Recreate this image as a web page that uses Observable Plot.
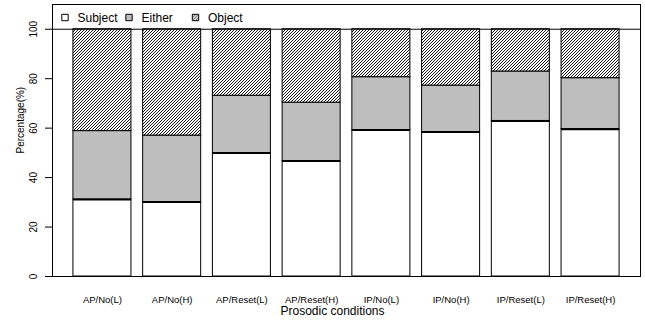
<!DOCTYPE html>
<html>
<head>
<meta charset="utf-8">
<script src="https://cdn.jsdelivr.net/npm/d3@7"></script>
<script src="https://cdn.jsdelivr.net/npm/@observablehq/plot@0.6"></script>
<style>
  html, body { margin: 0; padding: 0; background: #fff; }
  #chart svg { display: block; }
</style>
</head>
<body>
<div id="chart"></div>
<script>
const categories = ["AP/No(L)", "AP/No(H)", "AP/Reset(L)", "AP/Reset(H)", "IP/No(L)", "IP/No(H)", "IP/Reset(L)", "IP/Reset(H)"];
const seriesNames = ["Subject", "Either", "Object"];
const subject = [31.1, 30.1, 49.9, 46.7, 59.2, 58.4, 62.9, 59.6];
const either  = [27.7, 26.9, 23.2, 23.6, 21.4, 18.8, 20.0, 20.6];
const object  = [41.2, 43.0, 26.9, 29.7, 19.4, 22.8, 17.1, 19.8];
const yTicks = [0, 20, 40, 60, 80, 100];
const xTitle = "Prosodic conditions";
const yTitle = "Percentage(%)";

const seriesValues = [subject, either, object];
const rows = [];
categories.forEach((c, i) => {
  seriesNames.forEach((s, j) => rows.push({cond: c, series: s, value: seriesValues[j][i]}));
});
const subjectRows = categories.map((c, i) => ({cond: c, value: subject[i]}));

const fills = ["white", "#bebebe", "url(#hatch)"];
const legendDx = [12.5, 76.5, 143];
const font = "Liberation Sans, Arial, Helvetica, sans-serif";

const legendMarks = seriesNames.flatMap((s, j) => [
  Plot.dot([s], {frameAnchor: "top-left", dx: legendDx[j], dy: 13, symbol: "square", r: 3.6,
    fill: fills[j], stroke: "black", strokeWidth: 1}),
  Plot.text([s], {frameAnchor: "top-left", dx: legendDx[j] + 12.5, dy: 13.5, text: d => d,
    textAnchor: "start", lineAnchor: "middle", fontSize: 12, fill: "black"})
]);

const chart = Plot.plot({
  width: 645,
  height: 322,
  marginLeft: 52,
  marginRight: 5,
  marginTop: 4,
  marginBottom: 46,
  style: {fontFamily: font, background: "white", color: "black"},
  x: {domain: categories, paddingInner: 0.168, paddingOuter: 0.3, round: false, label: null},
  y: {domain: [0, 110], label: null},
  color: {type: "ordinal", domain: seriesNames, range: fills},
  marks: [
    Plot.barY(rows, Plot.stackY({order: seriesNames}, {
      x: "cond", y: "value", z: "series", fill: "series", stroke: "black", strokeWidth: 1
    })),
    Plot.tickY(subjectRows, {x: "cond", y: "value", stroke: "black", strokeWidth: 2}),
    Plot.ruleY([100], {stroke: "black", strokeWidth: 1}),
    Plot.frame({stroke: "black", strokeWidth: 1}),
    Plot.axisY({ticks: yTicks, tickSize: 7, tickFormat: () => "", label: null, stroke: "black"}),
    Plot.text(yTicks, {y: d => d, text: d => String(d), frameAnchor: "left", dx: -19, rotate: -90,
      textAnchor: "middle", fontSize: 10, fill: "black"}),
    Plot.axisX({tickSize: 0, tickPadding: 20, fontSize: 9.5, label: null}),
    Plot.text([xTitle], {frameAnchor: "bottom", lineAnchor: "middle", dx: -14, dy: 35, text: d => d, fontSize: 12, fill: "black"}),
    Plot.text([yTitle], {frameAnchor: "left", dx: -32, dy: 13, rotate: -90, text: d => d, fontSize: 10, fill: "black"}),
    ...legendMarks
  ]
});

const ns = "http://www.w3.org/2000/svg";
const defs = document.createElementNS(ns, "defs");
defs.innerHTML = '<pattern id="hatch" patternUnits="userSpaceOnUse" width="3" height="3">' +
  '<rect width="3" height="3" fill="white"/>' +
  '<path d="M-0.75,0.75 l1.5,-1.5 M0,3 l3,-3 M2.25,3.75 l1.5,-1.5" stroke="black" stroke-width="0.9"/></pattern>';
chart.insertBefore(defs, chart.firstChild);
document.getElementById("chart").appendChild(chart);
</script>
</body>
</html>
